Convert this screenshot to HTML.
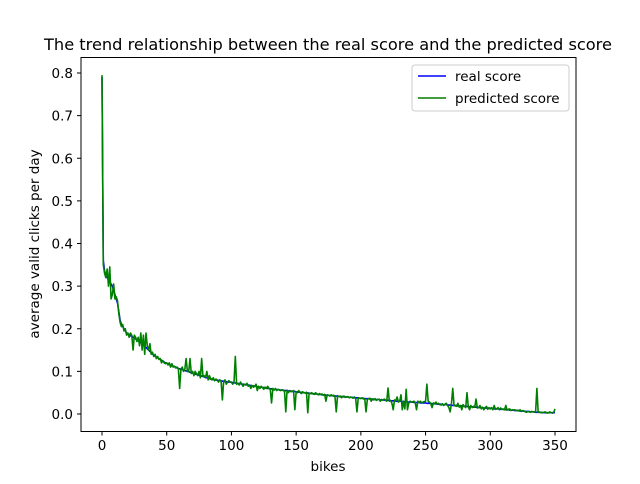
<!DOCTYPE html>
<html><head><meta charset="utf-8"><style>
body{margin:0;background:#fff}
svg{display:block;font-family:"DejaVu Sans","Liberation Sans",sans-serif}
</style></head><body>
<svg id="chart" width="640" height="484" viewBox="0 0 640 484">
<rect width="640" height="484" fill="#fff"/>
<text x="328" y="50" text-anchor="middle" font-size="16.2">The trend relationship between the real score and the predicted score</text>
<g id="plot"></g>
<rect x="81" y="57.5" width="495" height="374" fill="none" stroke="#000" stroke-width="1"/>
<text x="328" y="471" text-anchor="middle" font-size="13.5">bikes</text>
<text transform="translate(39,244) rotate(-90)" text-anchor="middle" font-size="13.5">average valid clicks per day</text>
<g>
<rect x="412" y="65" width="157" height="46" rx="3" fill="#fff" stroke="#ccc"/>
<line x1="418" y1="76" x2="446" y2="76" stroke="#0000ff" stroke-width="1.6"/>
<text x="455" y="81" font-size="13.5">real score</text>
<line x1="418" y1="98" x2="446" y2="98" stroke="#008000" stroke-width="1.6"/>
<text x="455" y="103" font-size="13.5">predicted score</text>
</g>
</svg>
<script>
const xTicks=[0,50,100,150,200,250,300,350];
const yTicks=[0.0,0.1,0.2,0.3,0.4,0.5,0.6,0.7,0.8];
const realScore=[.79,.36,.335,.325,.32,.315,.31,.305,.30,.29,
.28,.27,.26,.24,.22,.21,.205,.20,.195,.19,
.188,.186,.184,.182,.18,.178,.176,.174,.172,.17,
.168,.165,.162,.159,.156,.153,.15,.147,.144,.141,
.138,.136,.134,.132,.13,.128,.126,.124,.122,.12,
.119,.118,.116,.115,.113,.112,.111,.11,.108,.107,
.106,.105,.104,.103,.102,.101,.1,.099,.098,.097,
.096,.095,.094,.093,.092,.091,.09,.089,.088,.087,
.086,.085,.084,.083,.082,.082,.081,.08,.08,.079,
.079,.078,.078,.077,.077,.076,.076,.075,.075,.075,
.074,.074,.073,.073,.072,.072,.071,.071,.07,.07,
.069,.069,.068,.068,.067,.067,.066,.066,.065,.065,
.064,.064,.063,.063,.062,.062,.061,.061,.06,.06,
.059,.059,.058,.058,.058,.057,.057,.057,.056,.056,
.056,.055,.055,.055,.054,.054,.054,.053,.053,.053,
.052,.052,.051,.051,.051,.05,.05,.05,.049,.049,
.049,.048,.048,.048,.047,.047,.047,.046,.046,.046,
.045,.045,.045,.044,.044,.044,.043,.043,.043,.042,
.042,.042,.042,.041,.041,.041,.041,.04,.04,.04,
.04,.039,.039,.039,.039,.038,.038,.038,.038,.037,
.037,.037,.037,.036,.036,.036,.036,.035,.035,.035,
.035,.034,.034,.034,.034,.033,.033,.033,.033,.032,
.032,.032,.032,.031,.031,.031,.031,.03,.03,.03,
.03,.03,.029,.029,.029,.029,.028,.028,.028,.028,
.028,.027,.027,.027,.027,.027,.026,.026,.026,.026,
.026,.025,.025,.025,.025,.024,.024,.024,.024,.023,
.023,.023,.023,.022,.022,.022,.022,.021,.021,.021,
.021,.02,.02,.02,.02,.019,.019,.019,.019,.018,
.018,.018,.018,.017,.017,.017,.017,.016,.016,.016,
.016,.015,.015,.015,.015,.014,.014,.014,.014,.013,
.013,.013,.013,.012,.012,.012,.012,.011,.011,.011,
.011,.01,.01,.01,.01,.009,.009,.009,.009,.008,
.008,.008,.008,.007,.007,.007,.007,.006,.006,.006,
.006,.005,.005,.005,.005,.004,.004,.004,.004,.004,
.003,.003,.003,.003,.003,.003,.003,.003,.003,.003,.003];
const predictedScore=[.795,.35,.33,.32,.34,.30,.345,.27,.28,.305,
.27,.275,.265,.235,.215,.205,.21,.195,.2,.185,
.19,.18,.19,.185,.15,.185,.18,.17,.18,.16,
.19,.15,.185,.14,.19,.16,.15,.165,.14,.145,
.135,.14,.13,.135,.128,.13,.12,.125,.12,.118,
.12,.115,.12,.11,.118,.11,.112,.108,.11,.106,
.06,.105,.11,.1,.105,.13,.1,.099,.13,.095,
.1,.09,.1,.095,.09,.1,.085,.13,.088,.09,
.085,.1,.08,.09,.082,.08,.085,.078,.082,.08,
.075,.08,.078,.033,.077,.08,.07,.075,.078,.075,
.075,.07,.075,.135,.07,.072,.068,.075,.07,.065,
.07,.068,.072,.065,.068,.06,.067,.063,.065,.07,
.055,.065,.06,.065,.062,.058,.063,.06,.065,.06,
.058,.026,.06,.056,.06,.055,.058,.056,.055,.057,
.055,.054,.005,.056,.05,.055,.052,.053,.055,.01,
.052,.05,.055,.051,.048,.052,.05,.049,.051,.003,
.049,.048,.05,.047,.046,.05,.047,.045,.048,.046,
.047,.044,.046,.03,.045,.044,.042,.045,.043,.044,
.04,.005,.043,.041,.042,.038,.041,.042,.039,.04,
.041,.038,.04,.039,.037,.04,.036,.005,.038,.037,
.036,.038,.035,.036,.005,.034,.036,.037,.03,.035,
.033,.036,.032,.034,.035,.03,.034,.032,.035,.033,
.03,.061,.03,.032,.025,.01,.033,.031,.04,.028,
.03,.045,.01,.03,.012,.058,.01,.025,.03,.028,
.028,.03,.027,.01,.03,.027,.03,.026,.028,.029,
.03,.07,.03,.028,.025,.015,.026,.024,.028,.023,
.025,.022,.021,.024,.02,.023,.025,.02,.015,.005,
.025,.06,.02,.019,.018,.025,.016,.02,.01,.022,
.018,.015,.05,.017,.01,.02,.015,.018,.016,.035,
.014,.015,.02,.012,.016,.01,.014,.018,.011,.015,
.012,.015,.01,.02,.011,.012,.015,.01,.014,.011,
.012,.01,.02,.009,.011,.012,.008,.01,.009,.01,
.008,.009,.007,.01,.006,.008,.007,.005,.004,.006,
.005,.004,.006,.005,.004,.005,.06,.004,.005,.003,
.004,.003,.005,.004,.002,.003,.005,.003,.002,.004,.012];

const NS='http://www.w3.org/2000/svg';
const xs=v=>102+v*(555-102)/350;
const ys=v=>414-v*(414-73)/0.8;
const plot=document.getElementById('plot');
function mk(t,a){const e=document.createElementNS(NS,t);for(const k in a)e.setAttribute(k,a[k]);plot.appendChild(e);return e;}
xTicks.forEach(t=>{
  const l=mk('line',{x1:xs(t),x2:xs(t),y1:431.5,y2:435.5,stroke:'#000'});
  
  
  const tx=mk('text',{x:xs(t),y:450,'text-anchor':'middle','font-size':'13.5'});
  tx.textContent=String(t);
  
  
});
yTicks.forEach(t=>{
  const l=mk('line',{x1:77,x2:81,y1:ys(t),y2:ys(t),stroke:'#000'});
  
  
  const tx=mk('text',{x:73,y:ys(t)+5,'text-anchor':'end','font-size':'13.5'});
  tx.textContent=t.toFixed(1);
  
  
});
function line(arr,color,name){
  const pts=arr.map((v,i)=>xs(i).toFixed(2)+','+ys(v).toFixed(2)).join(' ');
  const p=mk('polyline',{points:pts,fill:'none',stroke:color,'stroke-width':'1.6','stroke-linejoin':'round'});
  
  
}
line(realScore,'#0000ff','real-score-line');
line(predictedScore,'#008000','predicted-score-line');
</script>
</body></html>
